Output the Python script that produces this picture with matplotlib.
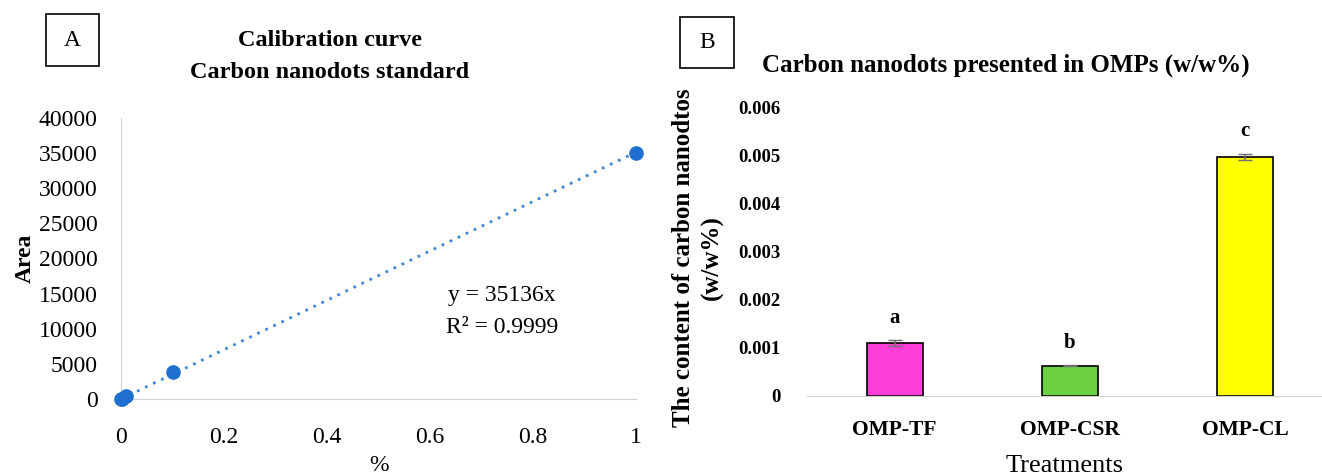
"""Calibration curve and carbon nanodot content, two-panel figure."""

import matplotlib.pyplot as plt
from matplotlib.patches import Rectangle

# panel A: calibration standard
conc_pct = [0, 0.001, 0.01, 0.1, 1.0]
area = [0, 40, 360, 3800, 35000]
slope = 35136
r_squared = 0.9999
a_xticks = [0, 0.2, 0.4, 0.6, 0.8, 1]
a_xticklabels = ["0", "0.2", "0.4", "0.6", "0.8", "1"]
a_yticks = [0, 5000, 10000, 15000, 20000, 25000, 30000, 35000, 40000]

# panel B: content in OMPs
treatments = ["OMP-TF", "OMP-CSR", "OMP-CL"]
content = [0.00110, 0.00063, 0.00497]
content_err = [0.00006, 0.00001, 0.00006]
letters = ["a", "b", "c"]
bar_colors = ["#ff3fd9", "#6cd043", "#ffff00"]
b_yticks = [0, 0.001, 0.002, 0.003, 0.004, 0.005, 0.006]

W, H = 1322, 475
SERIF = ["Liberation Serif", "DejaVu Serif"]
plt.rcParams["font.family"] = SERIF

fig = plt.figure(figsize=(W / 100, H / 100), dpi=100)


def px_axes(x0, y0, x1, y1):
    return fig.add_axes([x0 / W, 1 - y1 / H, (x1 - x0) / W, (y1 - y0) / H])


def label_box(x0, y0, x1, y1, txt):
    fig.patches.append(Rectangle((x0 / W, 1 - y1 / H), (x1 - x0) / W, (y1 - y0) / H,
                                 transform=fig.transFigure, fill=False, lw=1.2, ec="black"))
    fig.text((x0 + x1) / 2 / W, 1 - (y0 + y1) / 2 / H, txt, ha="center", va="center", fontsize=17)


# ---- panel A ----
ax = px_axes(121, 118, 636, 399)
ax.plot([0, 1], [0, slope], ls=(0, (1, 2.2)), lw=2, color="#3f88d8", zorder=2)
ax.scatter(conc_pct, area, s=90, color="#1f6fd0", zorder=3, clip_on=False)
ax.set_xlim(0, 1)
ax.set_ylim(0, 40000)
ax.set_xticks(a_xticks)
ax.set_xticklabels(a_xticklabels)
ax.set_yticks(a_yticks)
ax.tick_params(length=0, labelsize=17)
ax.tick_params(axis="x", pad=20)
ax.tick_params(axis="y", pad=17)
for side in ["top", "right"]:
    ax.spines[side].set_visible(False)
for side in ["left", "bottom"]:
    ax.spines[side].set_color("#d0d0d0")
ax.set_ylabel("Area", fontsize=17, fontweight="bold", labelpad=2)
ax.set_xlabel("%", fontsize=17, labelpad=5)
ax.text(0.74, 0.37, f"y = {slope}x", transform=ax.transAxes, ha="center", va="center", fontsize=17)
ax.text(0.74, 0.255, f"R\u00b2 = {r_squared}", transform=ax.transAxes, ha="center", va="center",
        fontsize=17)
fig.text(330 / W, 1 - 40 / H, "Calibration curve", ha="center", va="center", fontsize=17.5,
         fontweight="bold")
fig.text(330 / W, 1 - 72 / H, "Carbon nanodots standard", ha="center", va="center", fontsize=17.5,
         fontweight="bold")
label_box(46, 14, 99, 66, "A")

# ---- panel B ----
bx = px_axes(807, 107, 1322, 396)
xpos = range(len(treatments))
bx.bar(xpos, content, width=0.32, color=bar_colors, edgecolor="black", lw=1.2,
       yerr=content_err, error_kw=dict(ecolor="#707070", capsize=5, elinewidth=1.2))
for x, v, e, lt in zip(xpos, content, content_err, letters):
    bx.annotate(lt, (x, v + e), xytext=(0, 9), textcoords="offset points", ha="center",
                va="bottom", fontsize=15, fontweight="bold")
bx.set_xlim(-0.5, 2.44)
bx.set_ylim(0, 0.006)
bx.set_yticks(b_yticks)
bx.set_yticklabels(["0" if t == 0 else f"{t:.3f}" for t in b_yticks])
bx.set_xticks(list(xpos))
bx.set_xticklabels(treatments)
bx.tick_params(length=0)
bx.tick_params(axis="y", labelsize=13.5, pad=19)
bx.tick_params(axis="x", labelsize=15.5, pad=17)
for lbl in bx.get_yticklabels() + bx.get_xticklabels():
    lbl.set_fontweight("bold")
for side in ["top", "right", "left"]:
    bx.spines[side].set_visible(False)
bx.spines["bottom"].set_color("#d0d0d0")
bx.set_xlabel("Treatments", fontsize=19, labelpad=11)
fig.text(683 / W, 1 - 258 / H, "The content of carbon nanodtos", rotation=90, ha="center",
         va="center", fontsize=18, fontweight="bold")
fig.text(712 / W, 1 - 258 / H, "(w/w%)", rotation=90, ha="center", va="center", fontsize=18,
         fontweight="bold")
fig.text(1006 / W, 1 - 65 / H, "Carbon nanodots presented in OMPs (w/w%)", ha="center",
         va="center", fontsize=18, fontweight="bold")
label_box(680, 17, 734, 68, "B")

fig.savefig("out.png", dpi=100)
